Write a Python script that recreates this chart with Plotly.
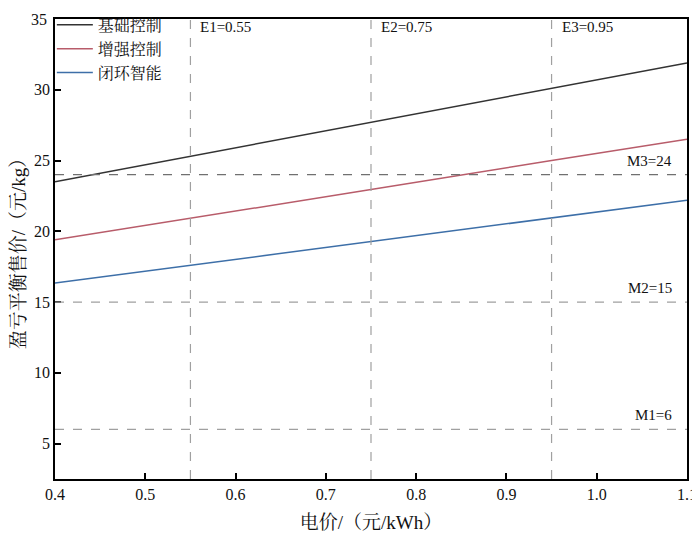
import plotly.graph_objects as go

# 电价 (元/kWh)
dianjia = [0.4, 0.55, 0.75, 0.95, 1.1]

# 盈亏平衡售价 (元/kg)
jichu = [23.5, 25.3, 27.7, 30.1, 31.9]
zengqiang = [19.4, 20.9, 22.95, 25.0, 26.5]
bihuan = [16.35, 17.6, 19.3, 20.95, 22.2]

series_names = ['基础控制', '增强控制', '闭环智能']
series_colors = ['#333333', '#b85c6a', '#3d6fa8']

# 参考线
e_vals = [0.55, 0.75, 0.95]
e_labels = ['E1=0.55', 'E2=0.75', 'E3=0.95']
m_vals = [24, 15, 6]
m_labels = ['M3=24', 'M2=15', 'M1=6']

y_ticks = [5, 10, 15, 20, 25, 30, 35]

serif = 'Times New Roman, Liberation Serif, Noto Serif CJK SC, Noto Sans CJK SC, serif'

fig = go.Figure()

for nome, ys, col in zip(series_names, [jichu, zengqiang, bihuan], series_colors):
    fig.add_trace(go.Scatter(x=dianjia, y=ys, mode='lines', name=nome,
                             line=dict(color=col, width=1.5)))

# linee tratteggiate verticali
for xv, lab in zip(e_vals, e_labels):
    fig.add_vline(x=xv, line=dict(color='#a0a0a0', width=1.2, dash='dash'))
    fig.add_annotation(x=xv, y=34.45, text=lab, showarrow=False, xanchor='left',
                       yanchor='middle', xshift=8, font=dict(size=15, color='#111'))

# linee tratteggiate orizzontali
for yv, lab in zip(m_vals, m_labels):
    col = '#707070' if yv == 24 else '#a0a0a0'
    fig.add_hline(y=yv, line=dict(color=col, width=1.2, dash='dash'))
    fig.add_annotation(x=1.1, y=yv, text=lab, showarrow=False, xanchor='right',
                       yanchor='bottom', xshift=-13, yshift=4, font=dict(size=15, color='#111'))

# l'etichetta in cima (35) viene nascosta da plotly perche' esce dal div: la metto a mano
fig.add_annotation(x=0, xref='paper', y=y_ticks[-1], text=str(y_ticks[-1]), showarrow=False,
                   xanchor='right', yanchor='middle', xshift=-6, font=dict(size=16, color='#111'))

# la pagina ha 8px di margine nel body: figura un po' piu' piccola
fig.update_layout(
    width=692, height=528,
    margin=dict(l=47, r=13, t=11, b=57, autoexpand=False),
    plot_bgcolor='white', paper_bgcolor='white',
    font=dict(family=serif, size=16, color='#111'),
    showlegend=True,
    legend=dict(x=-0.005, y=1.024, xanchor='left', yanchor='top',
                bgcolor='rgba(0,0,0,0)', font=dict(size=16), tracegroupgap=0,
                itemwidth=36),
)

fig.update_xaxes(range=[0.4, 1.1], dtick=0.1, tickformat='.1f',
                 showline=True, mirror=True, linecolor='black', linewidth=1.5,
                 ticks='inside', ticklen=6, tickwidth=1.5, tickcolor='black',
                 showgrid=False, zeroline=False, tickfont=dict(size=16),
                 title=dict(text='电价/（元/kWh）', font=dict(size=19), standoff=14))
fig.update_yaxes(range=[2.5, 35], tickvals=y_ticks,
                 ticktext=[str(v) for v in y_ticks[:-1]] + [''],
                 showline=True, mirror=True, linecolor='black', linewidth=1.5,
                 ticks='inside', ticklen=6, tickwidth=1.5, tickcolor='black',
                 showgrid=False, zeroline=False, tickfont=dict(size=16),
                 title=dict(text='盈亏平衡售价/（元/kg）', font=dict(size=19), standoff=4))

fig.write_html('out.html')
